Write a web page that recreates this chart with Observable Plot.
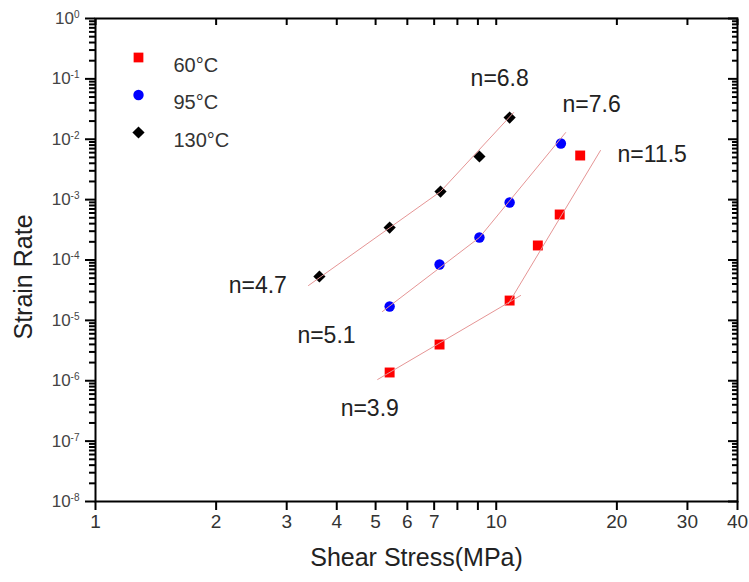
<!DOCTYPE html>
<html><head><meta charset="utf-8">
<script src="https://cdn.jsdelivr.net/npm/d3@7"></script>
<script src="https://cdn.jsdelivr.net/npm/@observablehq/plot@0.6"></script>
<style>
body{margin:0;background:#fff;}
#chart svg{font-family:"Liberation Sans",Arial,sans-serif;}
</style></head><body><div id="chart"></div>
<script>
// 60 °C (red squares)
const stress60 = [5.42, 7.22, 10.8, 12.7, 14.4, 16.2];
const rate60   = [1.37e-6, 3.98e-6, 2.13e-5, 1.74e-4, 5.67e-4, 5.38e-3];
// 95 °C (blue circles)
const stress95 = [5.42, 7.22, 9.08, 10.8, 14.5];
const rate95   = [1.70e-5, 8.42e-5, 2.36e-4, 8.96e-4, 8.51e-3];
// 130 °C (black diamonds)
const stress130 = [3.62, 5.42, 7.26, 9.08, 10.8];
const rate130   = [5.33e-5, 3.45e-4, 1.36e-3, 5.18e-3, 2.29e-2];

// fitted power-law lines (polyline vertices)
const fit130x = [3.40, 7.26, 11.05];
const fit130y = [3.78e-5, 1.36e-3, 2.77e-2];
const fit95x  = [5.20, 9.08, 14.9];
const fit95y  = [1.40e-5, 2.36e-4, 1.29e-2];
const fit60lowX  = [5.06, 11.5];
const fit60lowY  = [1.05e-6, 2.58e-5];
const fit60highX = [10.73, 18.2];
const fit60highY = [1.90e-5, 6.51e-3];

// stress exponent annotations
const nLabels = ["n=6.8", "n=7.6", "n=11.5", "n=4.7", "n=5.1", "n=3.9"];
const nX = [8.63, 14.64, 20.08, 2.15, 3.19, 4.09];
const nY = [0.1014, 0.0376, 5.59e-3, 3.78e-5, 5.62e-6, 3.47e-7];

// legend
const legendLabels = ["60°C", "95°C", "130°C"];
const legendColors = ["#ff0000", "#0000ff", "#000000"];
const legendSymbols = ["square", "circle", "diamond2"];

// ticks
const xTicks = [1, 2, 3, 4, 5, 6, 7, 8, 9, 10, 20, 30, 40];
const yDecades = [1e-8, 1e-7, 1e-6, 1e-5, 1e-4, 1e-3, 1e-2, 1e-1, 1];
const yMinor = [];
yDecades.slice(0, -1).forEach(d => { for (let k = 2; k <= 9; k++) yMinor.push(d * k); });

const xTitle = "Shear Stress(MPa)";
const yTitle = "Strain Rate";

const rows = (xs, ys) => xs.map((x, i) => ({x, y: ys[i]}));
const labelRows = nLabels.map((t, i) => ({t, x: nX[i], y: nY[i]}));

const W = 749, H = 582, mL = 95, mR = 12, mT = 18, mB = 81;
const lineColor = "#e59595";
const blank = () => "";
const tk = {stroke: "#000", strokeWidth: 2, label: null};

const legendMarks = legendLabels.flatMap((lab, i) => [
  Plot.dot([lab], {frameAnchor: "top-left", dx: 43, dy: 39 + 37.5 * i,
    symbol: legendSymbols[i], fill: legendColors[i], r: legendSymbols[i] === "circle" ? 5.2 : 5.5}),
  Plot.text([lab], {frameAnchor: "top-left", dx: 78, dy: 39 + 37.5 * i,
    text: d => d, textAnchor: "start", fontSize: 20, fill: "#333"})
]);

const chart = Plot.plot({
  width: W, height: H,
  marginLeft: mL, marginRight: mR, marginTop: mT, marginBottom: mB,
  x: {type: "log", domain: [1, 40]},
  y: {type: "log", domain: [1e-8, 1]},
  style: {background: "#fff", color: "#000"},
  marks: [
    Plot.axisX({ticks: xTicks, tickSize: 9, tickPadding: 4, tickFormat: d => String(d),
      fontSize: 19, fill: "#333", ...tk}),
    Plot.axisY({ticks: yDecades, tickSize: 10, tickPadding: 6,
      tickFormat: d => "10^" + Math.round(Math.log10(d)),
      fontSize: 17, fill: "#444", ...tk}),
    Plot.axisY({ticks: yMinor, tickSize: 6, tickFormat: blank, ...tk}),
    // inward ticks on top and right: outward axis ticks shifted back inside the frame
    Plot.axisX({anchor: "top", ticks: xTicks, tickSize: 6, dy: 6, tickFormat: blank, ...tk}),
    Plot.axisY({anchor: "right", ticks: yDecades, tickSize: 10, dx: -10, tickFormat: blank, ...tk}),
    Plot.axisY({anchor: "right", ticks: yMinor, tickSize: 6, dx: -6, tickFormat: blank, ...tk}),
    Plot.frame({stroke: "#000", strokeWidth: 2}),
    // data points
    Plot.dot(rows(stress60, rate60), {x: "x", y: "y", symbol: "square", fill: "#ff0000", r: 5.6}),
    Plot.dot(rows(stress95, rate95), {x: "x", y: "y", symbol: "circle", fill: "#0000ff", r: 5.2}),
    Plot.dot(rows(stress130, rate130), {x: "x", y: "y", symbol: "diamond2", fill: "#000", r: 5.5}),
    // fit lines
    Plot.line(rows(fit130x, fit130y), {x: "x", y: "y", stroke: lineColor, strokeWidth: 1}),
    Plot.line(rows(fit95x, fit95y), {x: "x", y: "y", stroke: lineColor, strokeWidth: 1}),
    Plot.line(rows(fit60lowX, fit60lowY), {x: "x", y: "y", stroke: lineColor, strokeWidth: 1}),
    Plot.line(rows(fit60highX, fit60highY), {x: "x", y: "y", stroke: lineColor, strokeWidth: 1}),
    // annotations
    Plot.text(labelRows, {x: "x", y: "y", text: "t", textAnchor: "start", fontSize: 23, fill: "#222"}),
    ...legendMarks,
    // axis titles
    Plot.text([xTitle], {frameAnchor: "bottom", dy: 64, text: d => d, fontSize: 25, fill: "#222"}),
    Plot.text([yTitle], {frameAnchor: "left", dx: -72, dy: 17, rotate: -90, textAnchor: "middle",
      text: d => d, fontSize: 25, fill: "#222"})
  ]
});

// superscript exponents on the y tick labels
chart.querySelectorAll('g[aria-label="y-axis tick label"] text').forEach(t => {
  const m = t.textContent.match(/^10\^(-?\d+)$/);
  if (!m) return;
  t.textContent = "10";
  const ts = document.createElementNS("http://www.w3.org/2000/svg", "tspan");
  ts.setAttribute("dy", "-0.6em");
  ts.setAttribute("font-size", "10");
  ts.textContent = m[1];
  t.appendChild(ts);
});

document.getElementById("chart").appendChild(chart);
</script></body></html>
